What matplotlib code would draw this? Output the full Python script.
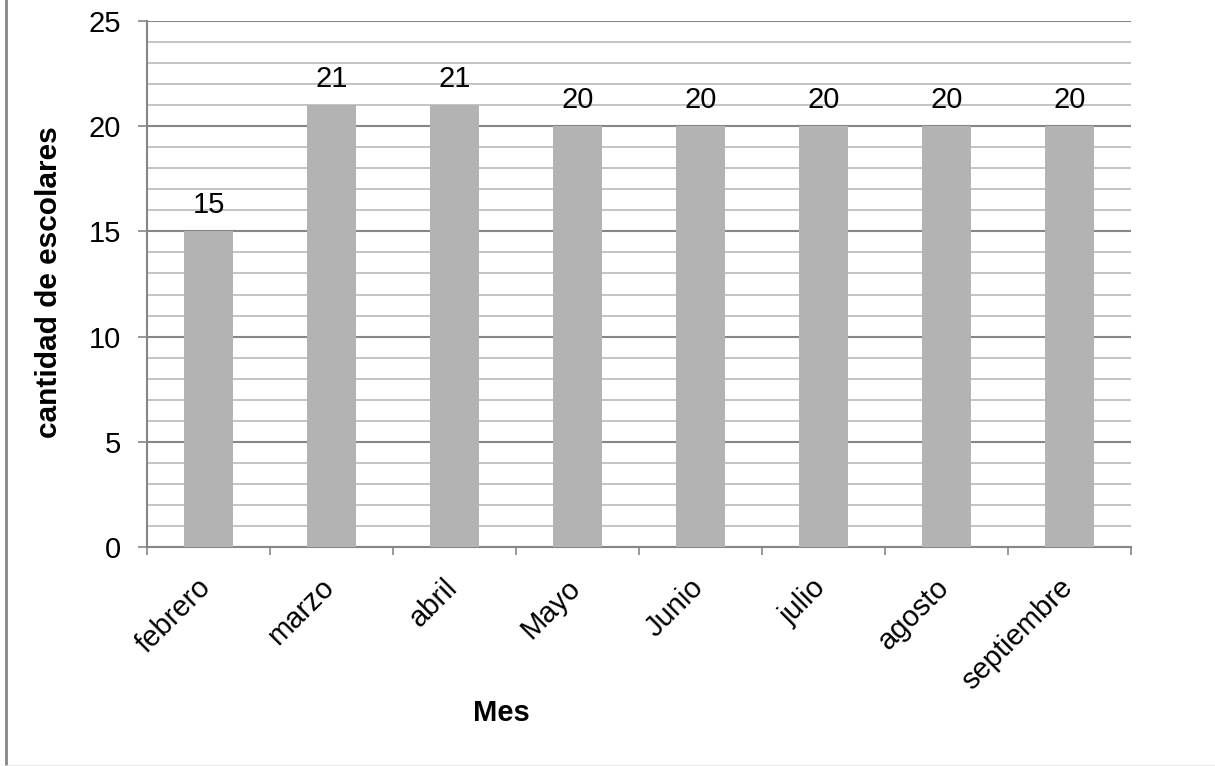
import matplotlib.pyplot as plt
import matplotlib.transforms as mtransforms
from matplotlib.lines import Line2D
import numpy as np

plt.rcParams['font.family'] = ['Liberation Sans', 'DejaVu Sans']

meses = ["febrero", "marzo", "abril", "Mayo", "Junio", "julio", "agosto", "septiembre"]
escolares = [15, 21, 21, 20, 20, 20, 20, 20]

fig = plt.figure(figsize=(12.15, 7.66), dpi=100)
ax = fig.add_axes([147 / 1215, 1 - 547 / 766, (1131 - 147) / 1215, (547 - 21) / 766])

x = np.arange(len(meses))
bars = ax.bar(x, escolares, width=0.4, color="#B3B3B3", zorder=3)

for xi, v in zip(x, escolares):
    ax.annotate(str(v), (xi, v), xytext=(0, 9), textcoords="offset points",
                ha="center", va="bottom", fontsize=21, color="black")

ax.set_xlim(-0.5, len(meses) - 0.5)
ax.set_ylim(0, 25)

# y axis: major ticks every 5, minor lines every 1
ax.set_yticks(range(0, 26, 5))
ax.set_yticks(range(0, 26, 1), minor=True)
ax.grid(True, which="major", axis="y", color="#868686", linewidth=1.5, zorder=1)
ax.grid(True, which="minor", axis="y", color="#BFBFBF", linewidth=1.3, zorder=1)
ax.set_axisbelow(True)
ax.tick_params(axis="y", which="major", length=6.5, width=1.2, color="#868686",
               pad=12, labelsize=21)
ax.tick_params(axis="y", which="minor", length=0)

# x axis: labels at category centers, tick marks at category boundaries
ax.set_xticks(x)
ax.set_xticklabels(meses, rotation=45, ha="right", va="top", fontsize=21)
ax.set_xticks(np.arange(-0.5, len(meses)), minor=True)
ax.tick_params(axis="x", which="major", length=0, pad=19)
ax.tick_params(axis="x", which="minor", length=5.5, width=1.2, color="#868686")
shift = mtransforms.ScaledTranslation(6 / 72, 0, fig.dpi_scale_trans)
for lbl in ax.get_xticklabels():
    lbl.set_transform(lbl.get_transform() + shift)

for side in ["top", "right"]:
    ax.spines[side].set_visible(False)
for side in ["left", "bottom"]:
    ax.spines[side].set_color("#868686")
    ax.spines[side].set_linewidth(1.5)

fig.text(49 / 1215, 1 - 282 / 766, "cantidad de escolares", rotation=90,
         ha="center", va="center", fontsize=21.5, fontweight="bold")
fig.text(501 / 1215, 1 - 713 / 766, "Mes", ha="center", va="center",
         fontsize=21, fontweight="bold")

# chart area frame
fig.add_artist(Line2D([5.5 / 1215, 5.5 / 1215], [0, 1], transform=fig.transFigure,
                      color="#868686", linewidth=2))
fig.add_artist(Line2D([5 / 1215, 1], [0.5 / 766, 0.5 / 766], transform=fig.transFigure,
                      color="#E6E6E6", linewidth=1.2))

fig.savefig("out.png", dpi=100)
